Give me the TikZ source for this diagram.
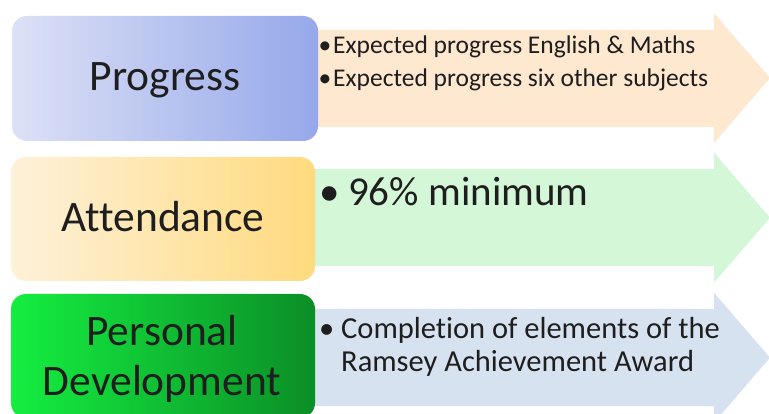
\documentclass[tikz,border=0pt]{standalone}
\usepackage{fontspec}
\setmainfont{Carlito}[Ligatures=NoCommon]
\definecolor{arrA}{HTML}{FFE8D0}
\definecolor{arrB}{HTML}{D3F7D7}
\definecolor{arrC}{HTML}{D6E2F0}
\definecolor{boxAl}{HTML}{DDE1F6}
\definecolor{boxAr}{HTML}{95A8EA}
\definecolor{boxBl}{HTML}{FEF1DA}
\definecolor{boxBr}{HTML}{FFDA7E}
\definecolor{boxCl}{HTML}{14EE40}
\definecolor{boxCr}{HTML}{0B8E27}
\definecolor{txt}{HTML}{1E1E1E}
\begin{document}
\begin{tikzpicture}[x=1pt,y=-1pt,
  box/.style={draw=none, rounded corners=15pt, inner sep=0pt, minimum width=305pt, minimum height=125pt},
  label/.style={text=txt, inner sep=0pt, anchor=base, font=\fontsize{43.5}{50}\selectfont},
  item/.style={text=txt, inner sep=0pt, anchor=base west}]
\useasboundingbox (0,0) rectangle (769,414);
\clip (0,0) rectangle (769,414);
% arrows
\fill[arrA] (300,30) -- (714,30) -- (714,13) -- (770,78) -- (714,143) -- (714,127) -- (300,127) -- cycle;
\fill[arrB] (300,169) -- (714,169) -- (714,152.7) -- (770,217.7) -- (714,282.7) -- (714,266) -- (300,266) -- cycle;
\fill[arrC] (300,309) -- (714,309) -- (714,292.7) -- (770,357.7) -- (714,422.7) -- (714,406) -- (300,406) -- cycle;
% boxes
\node[box, left color=boxAl, right color=boxAr, minimum width=306pt] (bp) at (165,78.5) {};
\node[box, left color=boxBl, right color=boxBr, minimum width=304pt, minimum height=124pt] (ba) at (163,219) {};
\node[box, left color=boxCl, right color=boxCr, minimum width=304pt, minimum height=124pt] (bd) at (163,356) {};
% labels
\node[label] (lp) at (165,91) {Progress};
\node[label] (la) at (163,232) {Attendance};
\node[label] (ld1) at (162,345) {Personal};
\node[label] (ld2) at (162,395) {Development};
% items
\begin{scope}[font=\fontsize{25.5}{30}\selectfont]
\node[item] (b1) at (318.5,54) {•};
\node[item] (t1) at (333,54) {Expected progress English \& Maths};
\node[item] (b2) at (318.5,87) {•};
\node[item] (t2) at (333,87) {Expected progress six other subjects};
\end{scope}
\begin{scope}[font=\fontsize{41}{48}\selectfont]
\node[item] (b3) at (319,206) {•};
\node[item] (t3) at (348,206) {96\% minimum};
\end{scope}
\begin{scope}[font=\fontsize{30.5}{36}\selectfont]
\node[item] (b4) at (319,338) {•};
\node[item] (t4) at (341,338) {Completion of elements of the};
\node[item] (t5) at (341,371) {Ramsey Achievement Award};
\end{scope}
\end{tikzpicture}
\end{document}
